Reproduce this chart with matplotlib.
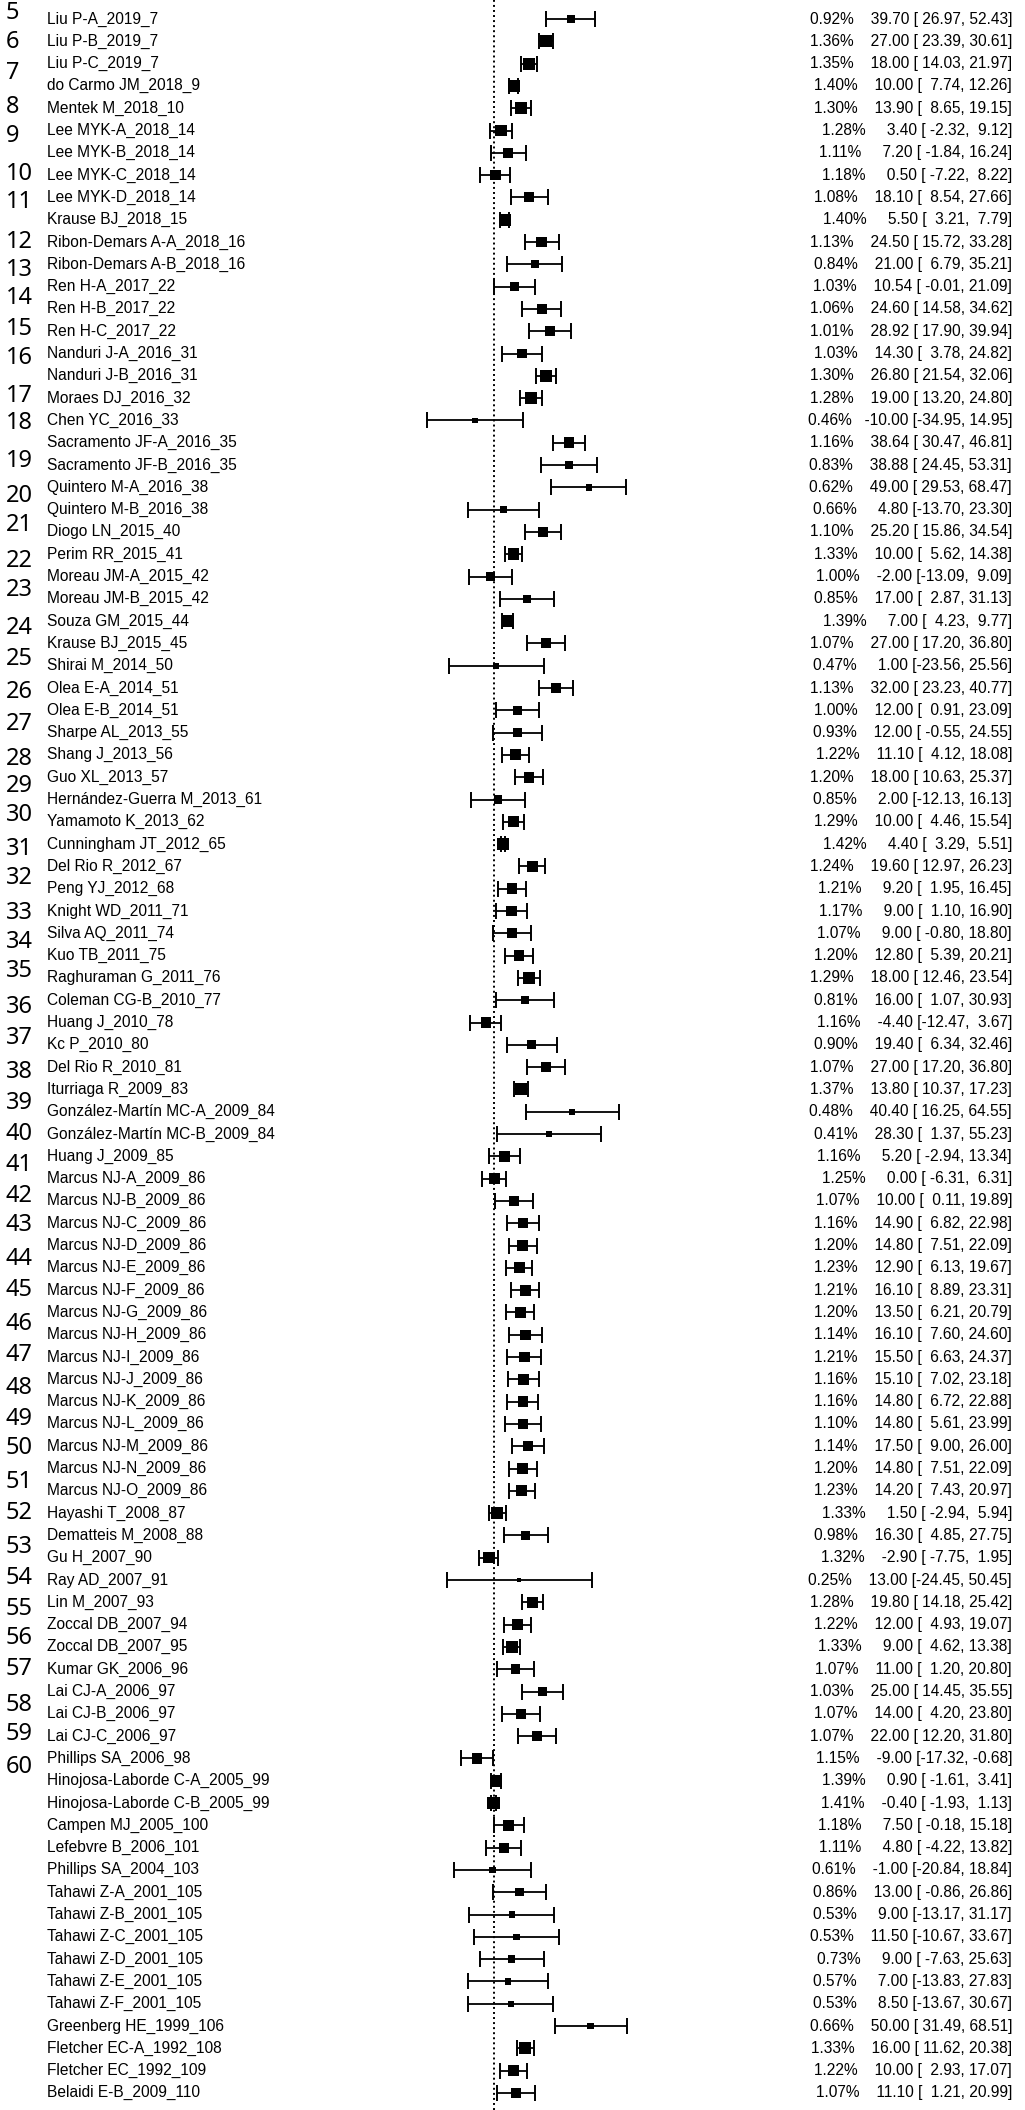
import numpy as np
import matplotlib.pyplot as plt
from matplotlib.transforms import blended_transform_factory

# study labels, weights (%), estimates and 95% CI, top to bottom
studies = [
    'Liu P-A_2019_7', 'Liu P-B_2019_7', 'Liu P-C_2019_7', 'do Carmo JM_2018_9',
    'Mentek M_2018_10', 'Lee MYK-A_2018_14', 'Lee MYK-B_2018_14', 'Lee MYK-C_2018_14',
    'Lee MYK-D_2018_14', 'Krause BJ_2018_15', 'Ribon-Demars A-A_2018_16', 'Ribon-Demars A-B_2018_16',
    'Ren H-A_2017_22', 'Ren H-B_2017_22', 'Ren H-C_2017_22', 'Nanduri J-A_2016_31',
    'Nanduri J-B_2016_31', 'Moraes DJ_2016_32', 'Chen YC_2016_33', 'Sacramento JF-A_2016_35',
    'Sacramento JF-B_2016_35', 'Quintero M-A_2016_38', 'Quintero M-B_2016_38', 'Diogo LN_2015_40',
    'Perim RR_2015_41', 'Moreau JM-A_2015_42', 'Moreau JM-B_2015_42', 'Souza GM_2015_44',
    'Krause BJ_2015_45', 'Shirai M_2014_50', 'Olea E-A_2014_51', 'Olea E-B_2014_51',
    'Sharpe AL_2013_55', 'Shang J_2013_56', 'Guo XL_2013_57', 'Hernández-Guerra M_2013_61',
    'Yamamoto K_2013_62', 'Cunningham JT_2012_65', 'Del Rio R_2012_67', 'Peng YJ_2012_68',
    'Knight WD_2011_71', 'Silva AQ_2011_74', 'Kuo TB_2011_75', 'Raghuraman G_2011_76',
    'Coleman CG-B_2010_77', 'Huang J_2010_78', 'Kc P_2010_80', 'Del Rio R_2010_81',
    'Iturriaga R_2009_83', 'González-Martín MC-A_2009_84', 'González-Martín MC-B_2009_84', 'Huang J_2009_85',
    'Marcus NJ-A_2009_86', 'Marcus NJ-B_2009_86', 'Marcus NJ-C_2009_86', 'Marcus NJ-D_2009_86',
    'Marcus NJ-E_2009_86', 'Marcus NJ-F_2009_86', 'Marcus NJ-G_2009_86', 'Marcus NJ-H_2009_86',
    'Marcus NJ-I_2009_86', 'Marcus NJ-J_2009_86', 'Marcus NJ-K_2009_86', 'Marcus NJ-L_2009_86',
    'Marcus NJ-M_2009_86', 'Marcus NJ-N_2009_86', 'Marcus NJ-O_2009_86', 'Hayashi T_2008_87',
    'Dematteis M_2008_88', 'Gu H_2007_90', 'Ray AD_2007_91', 'Lin M_2007_93',
    'Zoccal DB_2007_94', 'Zoccal DB_2007_95', 'Kumar GK_2006_96', 'Lai CJ-A_2006_97',
    'Lai CJ-B_2006_97', 'Lai CJ-C_2006_97', 'Phillips SA_2006_98', 'Hinojosa-Laborde C-A_2005_99',
    'Hinojosa-Laborde C-B_2005_99', 'Campen MJ_2005_100', 'Lefebvre B_2006_101', 'Phillips SA_2004_103',
    'Tahawi Z-A_2001_105', 'Tahawi Z-B_2001_105', 'Tahawi Z-C_2001_105', 'Tahawi Z-D_2001_105',
    'Tahawi Z-E_2001_105', 'Tahawi Z-F_2001_105', 'Greenberg HE_1999_106', 'Fletcher EC-A_1992_108',
    'Fletcher EC_1992_109', 'Belaidi E-B_2009_110',
]
weights = [
    0.92, 1.36, 1.35, 1.40, 1.30, 1.28, 1.11, 1.18, 1.08, 1.40, 1.13, 0.84,
    1.03, 1.06, 1.01, 1.03, 1.30, 1.28, 0.46, 1.16, 0.83, 0.62, 0.66, 1.10,
    1.33, 1.00, 0.85, 1.39, 1.07, 0.47, 1.13, 1.00, 0.93, 1.22, 1.20, 0.85,
    1.29, 1.42, 1.24, 1.21, 1.17, 1.07, 1.20, 1.29, 0.81, 1.16, 0.90, 1.07,
    1.37, 0.48, 0.41, 1.16, 1.25, 1.07, 1.16, 1.20, 1.23, 1.21, 1.20, 1.14,
    1.21, 1.16, 1.16, 1.10, 1.14, 1.20, 1.23, 1.33, 0.98, 1.32, 0.25, 1.28,
    1.22, 1.33, 1.07, 1.03, 1.07, 1.07, 1.15, 1.39, 1.41, 1.18, 1.11, 0.61,
    0.86, 0.53, 0.53, 0.73, 0.57, 0.53, 0.66, 1.33, 1.22, 1.07,
]
est = [
    39.70, 27.00, 18.00, 10.00, 13.90, 3.40, 7.20, 0.50, 18.10, 5.50, 24.50, 21.00,
    10.54, 24.60, 28.92, 14.30, 26.80, 19.00, -10.00, 38.64, 38.88, 49.00, 4.80, 25.20,
    10.00, -2.00, 17.00, 7.00, 27.00, 1.00, 32.00, 12.00, 12.00, 11.10, 18.00, 2.00,
    10.00, 4.40, 19.60, 9.20, 9.00, 9.00, 12.80, 18.00, 16.00, -4.40, 19.40, 27.00,
    13.80, 40.40, 28.30, 5.20, 0.00, 10.00, 14.90, 14.80, 12.90, 16.10, 13.50, 16.10,
    15.50, 15.10, 14.80, 14.80, 17.50, 14.80, 14.20, 1.50, 16.30, -2.90, 13.00, 19.80,
    12.00, 9.00, 11.00, 25.00, 14.00, 22.00, -9.00, 0.90, -0.40, 7.50, 4.80, -1.00,
    13.00, 9.00, 11.50, 9.00, 7.00, 8.50, 50.00, 16.00, 10.00, 11.10,
]
ci_lo = [
    26.97, 23.39, 14.03, 7.74, 8.65, -2.32, -1.84, -7.22, 8.54, 3.21, 15.72, 6.79,
    -0.01, 14.58, 17.90, 3.78, 21.54, 13.20, -34.95, 30.47, 24.45, 29.53, -13.70, 15.86,
    5.62, -13.09, 2.87, 4.23, 17.20, -23.56, 23.23, 0.91, -0.55, 4.12, 10.63, -12.13,
    4.46, 3.29, 12.97, 1.95, 1.10, -0.80, 5.39, 12.46, 1.07, -12.47, 6.34, 17.20,
    10.37, 16.25, 1.37, -2.94, -6.31, 0.11, 6.82, 7.51, 6.13, 8.89, 6.21, 7.60,
    6.63, 7.02, 6.72, 5.61, 9.00, 7.51, 7.43, -2.94, 4.85, -7.75, -24.45, 14.18,
    4.93, 4.62, 1.20, 14.45, 4.20, 12.20, -17.32, -1.61, -1.93, -0.18, -4.22, -20.84,
    -0.86, -13.17, -10.67, -7.63, -13.83, -13.67, 31.49, 11.62, 2.93, 1.21,
]
ci_hi = [
    52.43, 30.61, 21.97, 12.26, 19.15, 9.12, 16.24, 8.22, 27.66, 7.79, 33.28, 35.21,
    21.09, 34.62, 39.94, 24.82, 32.06, 24.80, 14.95, 46.81, 53.31, 68.47, 23.30, 34.54,
    14.38, 9.09, 31.13, 9.77, 36.80, 25.56, 40.77, 23.09, 24.55, 18.08, 25.37, 16.13,
    15.54, 5.51, 26.23, 16.45, 16.90, 18.80, 20.21, 23.54, 30.93, 3.67, 32.46, 36.80,
    17.23, 64.55, 55.23, 13.34, 6.31, 19.89, 22.98, 22.09, 19.67, 23.31, 20.79, 24.60,
    24.37, 23.18, 22.88, 23.99, 26.00, 22.09, 20.97, 5.94, 27.75, 1.95, 50.45, 25.42,
    19.07, 13.38, 20.80, 35.55, 23.80, 31.80, -0.68, 3.41, 1.13, 15.18, 13.82, 18.84,
    26.86, 31.17, 33.67, 25.63, 27.83, 30.67, 68.51, 20.38, 17.07, 20.99,
]

# manuscript line numbers down the left margin and the row they sit next to
line_nums = [5, 6, 7, 8, 9, 10, 11, 12, 13, 14, 15, 16, 17, 18, 19, 20, 21, 22, 23, 24,
             25, 26, 27, 28, 29, 30, 31, 32, 33, 34, 35, 36, 37, 38, 39, 40, 41, 42, 43, 44,
             45, 46, 47, 48, 49, 50, 51, 52, 53, 54, 55, 56, 57, 58, 59, 60]
line_rows = [0.75, 2.05, 3.4, 4.95, 6.25, 7.95, 9.2, 11.0, 12.25, 13.5, 14.9, 16.2, 17.9, 19.1,
             20.8, 22.4, 23.7, 25.3, 26.6, 28.3, 29.7, 31.2, 32.6, 34.2, 35.4, 36.7, 38.2, 39.5,
             41.1, 42.4, 43.7, 45.3, 46.7, 48.2, 49.6, 51.0, 52.4, 53.8, 55.1, 56.6, 58.0, 59.5,
             60.9, 62.4, 63.8, 65.1, 66.6, 68.0, 69.5, 70.9, 72.3, 73.6, 75.0, 76.6, 77.9, 79.4]

#%%
W, H = 1025, 2110
row_px, top_px = 22.3, 19.0
x0_px, px_unit = 494.3, 1.93

rows = np.arange(1, len(studies) + 1)
w = np.array(weights)
# metafor style point sizes: rescale weights to 0.5 - 1.5
psize = 0.5 + (w - w.min()) / (w.max() - w.min())
side_pt = psize * 8.2 * 0.72

fig = plt.figure(figsize=(W / 100, H / 100), dpi=100)
ax = fig.add_axes([0, 0, 1, 1])
ax.set_xlim(-x0_px / px_unit, (W - x0_px) / px_unit)
ax.set_ylim(1 + (H - top_px) / row_px, 1 - top_px / row_px)
ax.axis('off')

ax.axvline(0, color='black', lw=1.4, linestyle=(0, (1, 1.6)), zorder=1)

cap = 8.0 / row_px
ax.hlines(rows, ci_lo, ci_hi, color='black', lw=1.3, zorder=2)
ax.vlines(ci_lo, rows - cap, rows + cap, color='black', lw=1.4, zorder=2)
ax.vlines(ci_hi, rows - cap, rows + cap, color='black', lw=1.4, zorder=2)
ax.scatter(est, rows, s=side_pt ** 2, marker='s', color='black', linewidths=0, zorder=3)

tr = blended_transform_factory(ax.transAxes, ax.transData)
for r, name, wt, e, lo, hi in zip(rows, studies, weights, est, ci_lo, ci_hi):
    ax.text(47 / W, r, name, transform=tr, ha='left', va='center',
            fontsize=11.2, family='Liberation Sans')
    annot = f'{wt:.2f}%   {e:6.2f} [{lo:6.2f}, {hi:5.2f}]'
    ax.text(1012 / W, r, annot, transform=tr, ha='right', va='center',
            fontsize=11.2, family='Liberation Sans')

for n, r in zip(line_nums, line_rows):
    ax.text(6 / W, r, str(n), transform=tr, ha='left', va='center',
            fontsize=17, family='Noto Sans')

fig.savefig('out.png', dpi=100, facecolor='white')
